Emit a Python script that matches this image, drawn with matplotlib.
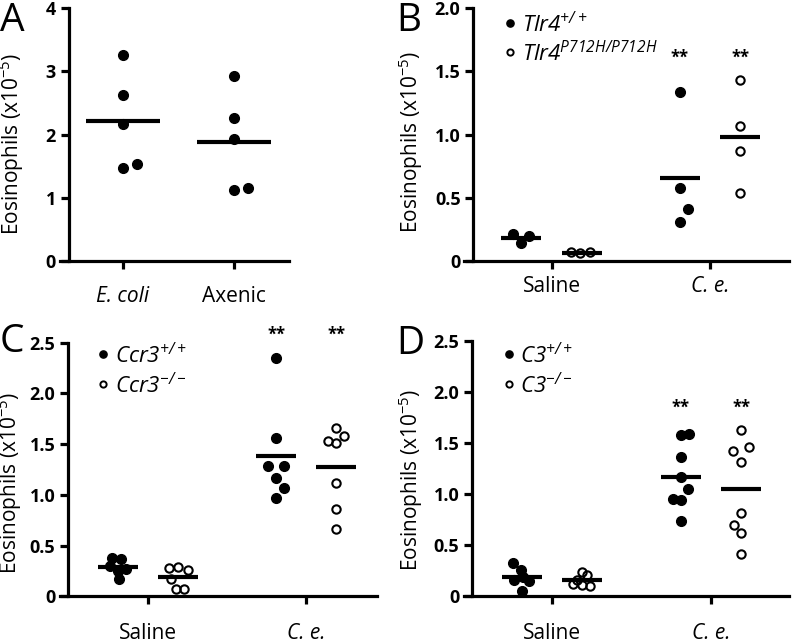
import numpy as np
import matplotlib
matplotlib.use('Agg')
import matplotlib.pyplot as plt

plt.rcParams['font.family'] = ['Open Sans', 'DejaVu Sans']

W, H = 792, 642

# --- data (eosinophils x10^-5) ---
a_cats = ['E. coli', 'Axenic']
a_ecoli = [3.26, 2.62, 2.17, 1.48, 1.53]
a_axenic = [2.93, 2.26, 1.93, 1.12, 1.16]

ce_cats = ['Saline', 'C. e.']

b_wt_saline = [0.21, 0.14, 0.20]
b_mut_saline = [0.07, 0.06, 0.07]
b_wt_ce = [1.34, 0.58, 0.41, 0.31]
b_mut_ce = [1.43, 1.07, 0.87, 0.54]

c_wt_saline = [0.38, 0.37, 0.30, 0.27, 0.25, 0.17]
c_ko_saline = [0.28, 0.29, 0.26, 0.17, 0.07, 0.07]
c_wt_ce = [2.35, 1.56, 1.28, 1.28, 1.17, 1.07, 0.97]
c_ko_ce = [1.66, 1.58, 1.53, 1.51, 1.12, 0.86, 0.66]

d_wt_saline = [0.33, 0.26, 0.16, 0.19, 0.15, 0.05]
d_ko_saline = [0.24, 0.21, 0.16, 0.12, 0.11, 0.10]
d_wt_ce = [1.58, 1.59, 1.36, 1.17, 1.05, 0.95, 0.94, 0.74]
d_ko_ce = [1.63, 1.46, 1.42, 1.32, 0.82, 0.70, 0.62, 0.41]

# horizontal spreading of overlapping points (Prism style scatter)
a_ecoli_dx = [0, 0, 0, 0, 0.13]
a_axenic_dx = [0, 0, 0, 0, 0.13]
b_wt_saline_dx = [-0.05, 0, 0.045]
b_mut_saline_dx = [-0.07, -0.01, 0.05]
b_wt_ce_dx = [0, 0, 0.05, 0]
b_mut_ce_dx = [0, 0, 0, 0]
c_wt_saline_dx = [-0.04, 0.02, -0.05, 0.05, 0.0, 0.005]
c_ko_saline_dx = [-0.06, 0, 0.06, -0.045, -0.013, 0.04]
c_wt_ce_dx = [0, 0, -0.048, 0.048, 0, 0.048, 0]
c_ko_ce_dx = [0, 0.049, -0.049, 0, 0, 0, 0]
d_wt_saline_dx = [-0.055, -0.006, -0.048, 0.008, 0.046, 0]
d_ko_saline_dx = [0, 0.03, -0.03, -0.055, 0, 0.05]
d_wt_ce_dx = [0, 0.052, 0, 0, 0.048, -0.048, 0.004, 0]
d_ko_ce_dx = [0, 0.05, -0.05, 0, 0, -0.048, 0, 0]

fig = plt.figure(figsize=(W / 100, H / 100), dpi=100)


def fx(px):
    return px / W


def fy(py):
    return 1 - py / H


def make_axes(left, right, top, bottom, spine_px, xlim, ylim, yticks, yticklabels, cats, cat_styles, xpad):
    ax = fig.add_axes([fx(left), fy(bottom), (right - left) / W, (bottom - top) / H])
    ax.patch.set_visible(False)
    ax.set_xlim(xlim)
    ax.set_ylim(ylim)
    ax.spines['top'].set_visible(False)
    ax.spines['right'].set_visible(False)
    ax.spines['left'].set_position(('axes', (spine_px - left) / (right - left)))
    ax.spines['left'].set_linewidth(2.3)
    ax.spines['bottom'].set_linewidth(2.3)
    ax.set_yticks(yticks)
    ax.set_yticklabels(yticklabels, fontweight='bold', fontsize=13)
    ax.set_xticks(range(len(cats)))
    ax.set_xticklabels(cats, fontsize=15)
    for lab, st in zip(ax.get_xticklabels(), cat_styles):
        lab.set_style(st)
    ax.tick_params(axis='both', width=2.3, length=6, direction='out')
    ax.tick_params(axis='x', pad=xpad)
    ax.tick_params(axis='y', pad=3)
    return ax


def group(ax, x, vals, dx, filled, half):
    xs = x + np.array(dx)
    if filled:
        ax.plot(xs, vals, 'o', ms=7, color='black', clip_on=False, zorder=3)
    else:
        ax.plot(xs, vals, 'o', ms=6, mfc='none', mec='black', mew=1.5, clip_on=False, zorder=3)
    ax.hlines(np.mean(vals), x - half, x + half, color='black', lw=3, zorder=4)


def legend(ax, x_mark, x_text, y_fill, y_open, wt_label, mut_label):
    ax.plot([fx(x_mark)], [fy(y_fill)], 'o', ms=5.2, color='black', transform=fig.transFigure, clip_on=False)
    ax.plot([fx(x_mark)], [fy(y_open)], 'o', ms=4.5, mfc='none', mec='black', mew=1.4,
            transform=fig.transFigure, clip_on=False)
    fig.text(fx(x_text), fy(y_fill + 9), wt_label, style='italic', fontsize=16, va='baseline')
    fig.text(fx(x_text), fy(y_open + 9), mut_label, style='italic', fontsize=16, va='baseline')


ylab = 'Eosinophils (x10$^{\\mathregular{-5}}$)'
off = 0.19
half = 0.126

# ---- A ----
axA = make_axes(60, 289, 8.3, 261, 68.5, (-0.568, 1.495), (0, 4), [0, 1, 2, 3, 4],
                ['0', '1', '2', '3', '4'], a_cats, ['italic', 'normal'], 12)
group(axA, 0, a_ecoli, a_ecoli_dx, True, 0.33)
group(axA, 1, a_axenic, a_axenic_dx, True, 0.33)

# ---- B ----
axB = make_axes(464, 789, 8.3, 261, 473, (-0.552, 1.498), (0, 2), [0, 0.5, 1.0, 1.5, 2.0],
                ['0', '0.5', '1.0', '1.5', '2.0'], ce_cats, ['normal', 'italic'], 5)
group(axB, 0 - off, b_wt_saline, b_wt_saline_dx, True, half)
group(axB, 0 + off, b_mut_saline, b_mut_saline_dx, False, half)
group(axB, 1 - off, b_wt_ce, b_wt_ce_dx, True, half)
group(axB, 1 + off, b_mut_ce, b_mut_ce_dx, False, half)
for xx in (1 - off, 1 + off):
    axB.text(xx, 1.61, '**', ha='center', va='center', fontsize=12, fontweight='bold')
legend(axB, 510, 522, 22.7, 51.7, 'Tlr4$^{\\mathregular{+/+}}$', 'Tlr4$^{\\mathregular{P712H/P712H}}$')

# ---- C ----
axC = make_axes(60, 377, 342.7, 596.3, 68, (-0.557, 1.449), (0, 2.5), [0, 0.5, 1.0, 1.5, 2.0, 2.5],
                ['0', '0.5', '1.0', '1.5', '2.0', '2.5'], ce_cats, ['normal', 'italic'], 13)
group(axC, 0 - off, c_wt_saline, c_wt_saline_dx, True, half)
group(axC, 0 + off, c_ko_saline, c_ko_saline_dx, False, half)
group(axC, 1 - off, c_wt_ce, c_wt_ce_dx, True, half)
group(axC, 1 + off, c_ko_ce, c_ko_ce_dx, False, half)
for xx in (1 - off, 1 + off):
    axC.text(xx, 2.58, '**', ha='center', va='center', fontsize=12, fontweight='bold')
legend(axC, 103, 115, 354.3, 384.3, 'Ccr3$^{\\mathregular{+/+}}$', 'Ccr3$^{\\mathregular{-/-}}$')

# ---- D ----
axD = make_axes(464, 789, 341, 596.3, 472, (-0.553, 1.491), (0, 2.5), [0, 0.5, 1.0, 1.5, 2.0, 2.5],
                ['0', '0.5', '1.0', '1.5', '2.0', '2.5'], ce_cats, ['normal', 'italic'], 13)
group(axD, 0 - off, d_wt_saline, d_wt_saline_dx, True, half)
group(axD, 0 + off, d_ko_saline, d_ko_saline_dx, False, half)
group(axD, 1 - off, d_wt_ce, d_wt_ce_dx, True, half)
group(axD, 1 + off, d_ko_ce, d_ko_ce_dx, False, half)
for xx in (1 - off, 1 + off):
    axD.text(xx, 1.85, '**', ha='center', va='center', fontsize=12, fontweight='bold')
legend(axD, 509, 520, 354.3, 384.3, 'C3$^{\\mathregular{+/+}}$', 'C3$^{\\mathregular{-/-}}$')

# y labels and panel letters
for x, y in [(12, 144), (411, 142), (10, 483), (411, 480)]:
    fig.text(fx(x), fy(y), ylab, rotation=90, ha='center', va='center', fontsize=15)
for letter, x, y in [('A', 0, 2), ('B', 396, 2), ('C', 0, 323), ('D', 396, 325)]:
    fig.text(fx(x), fy(y), letter, ha='left', va='top', fontsize=28)

fig.savefig('out.png', dpi=100)
